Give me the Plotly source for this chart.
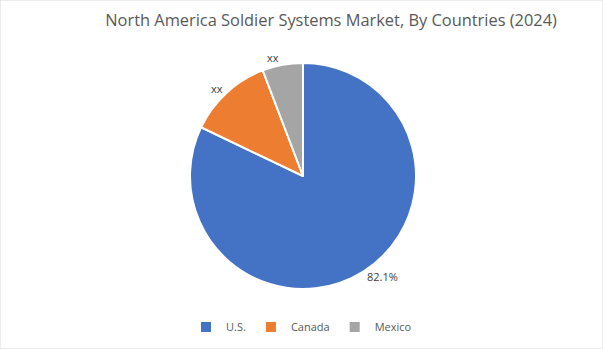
import plotly.graph_objects as go

countries = ["U.S.", "Canada", "Mexico"]
shares = [82.1, 12.1, 5.8]
label_text = ["82.1%", "xx", "xx"]
colors = ["#4472C4", "#ED7D31", "#A5A5A5"]

W, H = 603, 349
fig = go.Figure(go.Pie(
    labels=countries, values=shares, text=label_text,
    textinfo="text", textposition="outside",
    sort=False, direction="clockwise", rotation=0,
    marker=dict(colors=colors, line=dict(color="white", width=2)),
    textfont=dict(family="Open Sans", size=11, color="#404040"),
    domain=dict(x=[190 / W, 416 / W], y=[1 - 289 / H, 1 - 63 / H]),
    showlegend=True,
))
fig.update_layout(
    width=W, height=H,
    margin=dict(l=0, r=0, t=0, b=0),
    paper_bgcolor="white",
    title=dict(text="North America Soldier Systems Market, By Countries (2024)",
               x=0.549, xanchor="center", y=1 - 20 / H, yanchor="middle",
               font=dict(family="Open Sans", size=16.4, color="#595959")),
    legend=dict(orientation="h", x=0.5, xanchor="center", y=1 - 327 / H, yanchor="middle",
                font=dict(family="Open Sans", size=11, color="#595959"),
                itemwidth=30, tracegroupgap=0),
    shapes=[dict(type="rect", xref="paper", yref="paper", x0=0, y0=0, x1=1, y1=1,
                 line=dict(color="#D9D9D9", width=1))],
)
fig.write_html("out.html")
